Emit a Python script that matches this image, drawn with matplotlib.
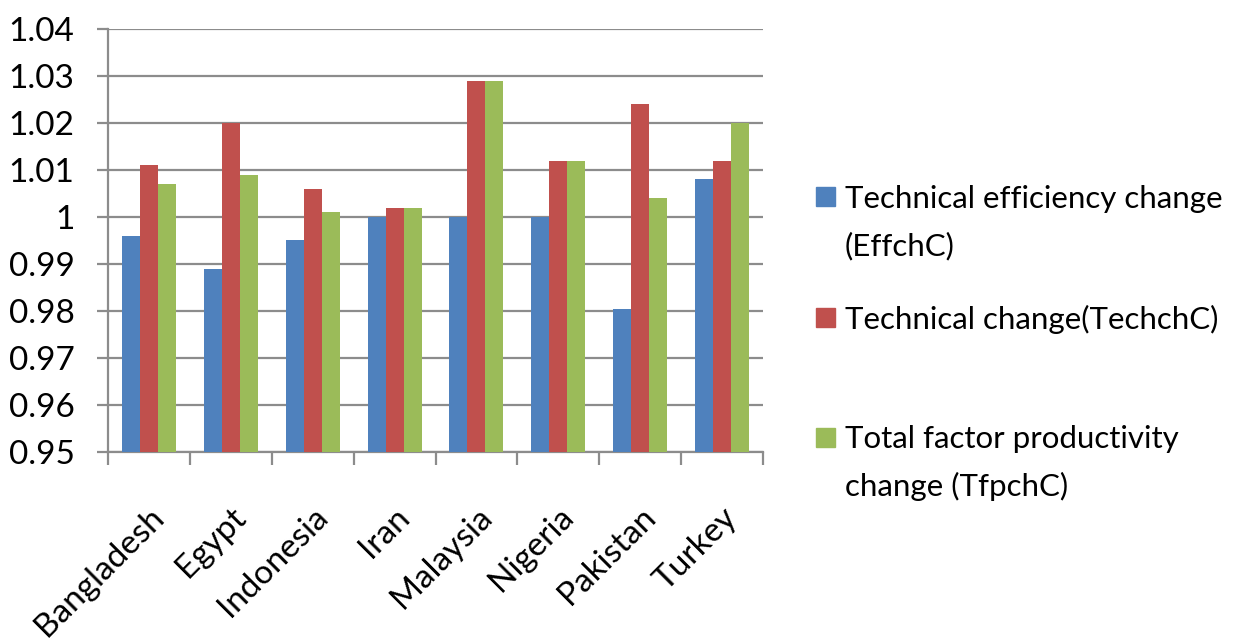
import matplotlib
matplotlib.use('Agg')
import matplotlib.pyplot as plt
from matplotlib.patches import Rectangle
import numpy as np

countries = ['Bangladesh', 'Egypt', 'Indonesia', 'Iran', 'Malaysia',
             'Nigeria', 'Pakistan', 'Turkey']
effch = [0.996, 0.989, 0.995, 1.000, 1.000, 1.000, 0.9805, 1.008]
techch = [1.011, 1.020, 1.006, 1.002, 1.029, 1.012, 1.024, 1.012]
tfpch = [1.007, 1.009, 1.001, 1.002, 1.029, 1.012, 1.004, 1.020]
series_names = ['Technical efficiency change\n(EffchC)',
                'Technical change(TechchC)',
                'Total factor productivity\nchange (TfpchC)']
colors = ['#4F81BD', '#C0504D', '#9BBB59']
yticks = [0.95, 0.96, 0.97, 0.98, 0.99, 1.0, 1.01, 1.02, 1.03, 1.04]
ytick_labels = ['0.95', '0.96', '0.97', '0.98', '0.99', '1',
                '1.01', '1.02', '1.03', '1.04']

plt.rcParams['font.family'] = ['Lato', 'DejaVu Sans']
grey = '#8c8c8c'

fig = plt.figure(figsize=(12.34, 6.43), dpi=100)
ax = fig.add_axes([108 / 1234, 1 - 452 / 643, 655 / 1234, 423 / 643])

x = np.arange(len(countries))
w = 0.22
for k, vals in enumerate([effch, techch, tfpch]):
    ax.bar(x + (k - 1) * w, np.array(vals) - 0.95, width=w, bottom=0.95,
           color=colors[k], zorder=3)

ax.set_ylim(0.95, 1.04)
ax.set_xlim(-0.5, 7.5)
ax.set_yticks(yticks)
ax.set_yticklabels(ytick_labels, fontsize=24)
ax.yaxis.grid(True, color=grey, linewidth=1.6, zorder=0)
ax.tick_params(axis='y', length=8, width=1.6, color=grey, pad=16)

ax.set_xticks(x)
ax.set_xticklabels(countries, fontsize=24, rotation=45, ha='right', va='top',
                   rotation_mode='anchor')
ax.set_xticks(np.arange(-0.5, 8, 1), minor=True)
ax.tick_params(axis='x', which='major', length=0, pad=36)
ax.tick_params(axis='x', which='minor', length=9, width=1.6, color=grey)

for s in ['top', 'right']:
    ax.spines[s].set_visible(False)
for s in ['left', 'bottom']:
    ax.spines[s].set_color(grey)
    ax.spines[s].set_linewidth(1.6)

# legend drawn by hand so the swatch sits on the first text line
entry_y = [197, 317, 437]
for k, name in enumerate(series_names):
    yc = 1 - entry_y[k] / 643
    fig.patches.append(Rectangle((816 / 1234, yc - 9.5 / 643), 19 / 1234, 19 / 643,
                                 transform=fig.transFigure, color=colors[k]))
    fig.text(845 / 1234, yc + 12 / 643, name, fontsize=22.5, va='top', ha='left',
             linespacing=1.8)

fig.savefig('out.png', dpi=100)
